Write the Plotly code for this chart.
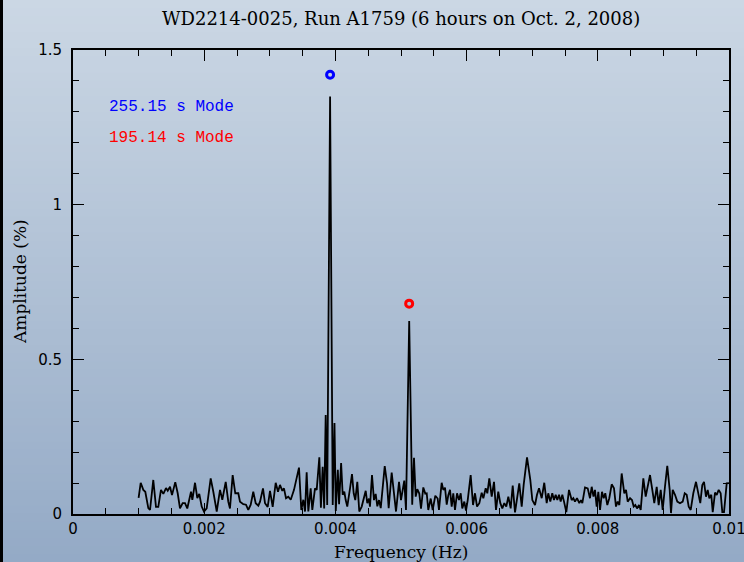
import plotly.graph_objects as go

# ---------------- data ----------------
freq_mHz = [
    1.000, 1.032, 1.072, 1.102, 1.148, 1.174, 1.224, 1.265, 1.300, 1.341,
    1.377, 1.418, 1.444, 1.479, 1.509, 1.559, 1.596, 1.631, 1.672, 1.707,
    1.742, 1.799, 1.819, 1.860, 1.895, 1.925, 1.962, 1.997, 2.038, 2.099,
    2.139, 2.191, 2.241, 2.276, 2.328, 2.367, 2.393, 2.434, 2.474, 2.520,
    2.546, 2.596, 2.637, 2.672, 2.709, 2.748, 2.785, 2.825, 2.851, 2.896,
    2.927, 2.968, 3.003, 3.044, 3.090, 3.125, 3.155, 3.191, 3.216, 3.247,
    3.282, 3.319, 3.369, 3.399, 3.445, 3.480, 3.511, 3.537, 3.562, 3.587,
    3.623, 3.648, 3.689, 3.715, 3.755, 3.779, 3.806, 3.829, 3.852, 3.875,
    3.919, 3.959, 3.986, 4.006, 4.037, 4.056, 4.087, 4.111, 4.136, 4.157,
    4.181, 4.223, 4.253, 4.279, 4.303, 4.334, 4.364, 4.401, 4.436, 4.462,
    4.486, 4.512, 4.527, 4.558, 4.588, 4.614, 4.639, 4.665, 4.691, 4.721,
    4.752, 4.787, 4.812, 4.858, 4.889, 4.924, 4.970, 5.000, 5.026, 5.050,
    5.076, 5.125, 5.171, 5.198, 5.224, 5.248, 5.279, 5.305, 5.340, 5.370,
    5.392, 5.416, 5.453, 5.483, 5.523, 5.559, 5.579, 5.620, 5.645, 5.671,
    5.697, 5.721, 5.747, 5.773, 5.797, 5.823, 5.854, 5.884, 5.910, 5.934,
    5.965, 5.991, 6.017, 6.062, 6.098, 6.128, 6.159, 6.194, 6.230, 6.255,
    6.291, 6.316, 6.346, 6.383, 6.418, 6.448, 6.483, 6.514, 6.544, 6.575,
    6.605, 6.636, 6.672, 6.703, 6.738, 6.773, 6.803, 6.840, 6.870, 6.921,
    6.971, 7.002, 7.043, 7.073, 7.104, 7.145, 7.184, 7.221, 7.245, 7.276,
    7.306, 7.332, 7.358, 7.383, 7.409, 7.434, 7.459, 7.485, 7.520, 7.561,
    7.602, 7.627, 7.652, 7.683, 7.718, 7.744, 7.764, 7.805, 7.846, 7.881,
    7.907, 7.934, 7.957, 7.983, 8.008, 8.034, 8.064, 8.090, 8.114, 8.145,
    8.175, 8.212, 8.247, 8.277, 8.303, 8.328, 8.364, 8.404, 8.430, 8.456,
    8.491, 8.521, 8.547, 8.572, 8.598, 8.628, 8.654, 8.694, 8.730, 8.755,
    8.796, 8.831, 8.861, 8.898, 8.928, 8.959, 8.989, 9.024, 9.059, 9.096,
    9.116, 9.142, 9.177, 9.212, 9.253, 9.294, 9.325, 9.355, 9.386, 9.416,
    9.456, 9.497, 9.532, 9.562, 9.593, 9.619, 9.649, 9.675, 9.700, 9.730,
    9.752, 9.787, 9.813, 9.843, 9.873, 9.898, 9.924, 9.965, 10.000,
]
amplitude_pct = [
    0.052, 0.101, 0.078, 0.072, 0.019, 0.013, 0.110, 0.023, 0.023, 0.078,
    0.065, 0.084, 0.075, 0.088, 0.061, 0.103, 0.067, 0.018, 0.035, 0.035,
    0.018, 0.072, 0.046, 0.101, 0.051, 0.065, 0.024, 0.008, 0.018, 0.115,
    0.072, 0.008, 0.078, 0.046, 0.104, 0.040, 0.018, 0.126, 0.067, 0.067,
    0.040, 0.032, 0.030, 0.013, 0.030, 0.072, 0.035, 0.027, 0.040, 0.083,
    0.035, 0.023, 0.075, 0.023, 0.101, 0.072, 0.094, 0.075, 0.083, 0.051,
    0.056, 0.046, 0.078, 0.104, 0.150, 0.013, 0.046, 0.008, 0.135, 0.008,
    0.083, 0.013, 0.083, 0.078, 0.183, 0.020, 0.153, 0.018, 0.320, 0.029,
    1.350, 0.029, 0.294, 0.010, 0.143, 0.032, 0.165, 0.062, 0.072, 0.045,
    0.024, 0.083, 0.129, 0.067, 0.045, 0.104, 0.008, 0.024, 0.056, 0.075,
    0.035, 0.050, 0.024, 0.126, 0.045, 0.065, 0.025, 0.045, 0.019, 0.099,
    0.155, 0.099, 0.019, 0.134, 0.083, 0.008, 0.104, 0.045, 0.078, 0.108,
    0.013, 0.624, 0.030, 0.182, 0.056, 0.080, 0.066, 0.017, 0.086, 0.066,
    0.067, 0.013, 0.050, 0.013, 0.059, 0.050, 0.013, 0.101, 0.078, 0.085,
    0.030, 0.061, 0.078, 0.024, 0.067, 0.013, 0.067, 0.045, 0.067, 0.018,
    0.040, 0.011, 0.045, 0.126, 0.029, 0.067, 0.024, 0.035, 0.069, 0.051,
    0.083, 0.067, 0.115, 0.056, 0.104, 0.013, 0.072, 0.035, 0.018, 0.035,
    0.024, 0.056, 0.018, 0.092, 0.005, 0.056, 0.099, 0.024, 0.094, 0.183,
    0.110, 0.045, 0.029, 0.062, 0.083, 0.051, 0.101, 0.035, 0.067, 0.040,
    0.067, 0.045, 0.062, 0.045, 0.062, 0.040, 0.062, 0.040, 0.006, 0.078,
    0.045, 0.051, 0.040, 0.051, 0.035, 0.045, 0.035, 0.086, 0.083, 0.051,
    0.088, 0.056, 0.078, 0.024, 0.072, 0.013, 0.072, 0.051, 0.067, 0.029,
    0.051, 0.096, 0.083, 0.024, 0.040, 0.029, 0.131, 0.067, 0.078, 0.040,
    0.051, 0.045, 0.024, 0.029, 0.018, 0.029, 0.013, 0.115, 0.056, 0.083,
    0.126, 0.078, 0.035, 0.088, 0.029, 0.078, 0.013, 0.088, 0.156, 0.078,
    0.003, 0.078, 0.062, 0.040, 0.035, 0.040, 0.067, 0.062, 0.024, 0.013,
    0.067, 0.104, 0.062, 0.035, 0.094, 0.104, 0.056, 0.078, 0.051, 0.062,
    0.006, 0.069, 0.062, 0.078, 0.067, 0.006, 0.006, 0.099, 0.100,
]

mode_labels = ["255.15 s Mode", "195.14 s Mode"]
mode_freq_hz = [1 / 255.15, 1 / 195.14]
mode_marker_amp = [1.42, 0.68]
mode_colors = ["#0000ff", "#ff0000"]
label_pos_freq = [0.00052, 0.00052]
label_pos_amp = [1.315, 1.215]

x_tickvals = [0, 0.002, 0.004, 0.006, 0.008, 0.01]
x_ticktext = ["0", "0.002", "0.004", "0.006", "0.008", "0.01"]
y_tickvals = [0, 0.5, 1, 1.5]
y_ticktext = ["0", "0.5", "1", "1.5"]

title_text = "WD2214-0025, Run A1759 (6 hours on Oct. 2, 2008)"
x_title = "Frequency (Hz)"
y_title = "Amplitude (%)"

freq_hz = [f / 1000 for f in freq_mHz]

# ---------------- figure ----------------
W, H = 744, 562
ML, MR, MT, MB = 73, 15, 50, 48
PW, PH = W - ML - MR, H - MT - MB

fig = go.Figure()
fig.add_trace(go.Scatter(
    x=freq_hz, y=amplitude_pct, mode="lines",
    line=dict(color="black", width=1.8), hoverinfo="skip", showlegend=False,
))
fig.add_trace(go.Scatter(
    x=mode_freq_hz, y=mode_marker_amp, mode="markers",
    marker=dict(symbol="circle-open", size=7, color=mode_colors,
                line=dict(width=3, color=mode_colors)),
    showlegend=False,
))

# gradient background built from horizontal bands
shapes = []
top = (203, 215, 228)
bot = (148, 170, 198)
nb = 70
y_lo = -MB / PH
y_hi = 1 + MT / PH
for i in range(nb):
    t = i / (nb - 1)
    c = tuple(int(round(top[k] + (bot[k] - top[k]) * t)) for k in range(3))
    y1 = y_hi - (y_hi - y_lo) * i / nb
    y0 = y_hi - (y_hi - y_lo) * (i + 1) / nb
    shapes.append(dict(type="rect", xref="paper", yref="paper",
                       x0=-ML / PW, x1=1 + MR / PW, y0=y0 - 0.002, y1=y1,
                       fillcolor="rgb(%d,%d,%d)" % c, line=dict(width=0),
                       layer="below"))
# dark frame edge on the left of the image
shapes.append(dict(type="rect", xref="paper", yref="paper",
                   x0=-ML / PW, x1=(-ML + 3) / PW, y0=y_lo, y1=y_hi,
                   fillcolor="black", line=dict(width=0), layer="above"))

annotations = []
for lab, fx, ay, col in zip(mode_labels, label_pos_freq, label_pos_amp, mode_colors):
    annotations.append(dict(x=fx, y=ay, xref="x", yref="y", text=lab,
                            showarrow=False, xanchor="left", yanchor="middle",
                            font=dict(family="Liberation Mono", size=16, color=col)))
annotations.append(dict(x=0.5, y=1, xref="paper", yref="paper", yshift=32,
                        text=title_text, showarrow=False, xanchor="center",
                        yanchor="middle",
                        font=dict(family="DejaVu Serif", size=18, color="black")))
annotations.append(dict(x=0.5, y=0, xref="paper", yref="paper", yshift=-38,
                        text=x_title, showarrow=False, xanchor="center",
                        yanchor="middle",
                        font=dict(family="DejaVu Serif", size=17, color="black")))
annotations.append(dict(x=0, y=0.5, xref="paper", yref="paper", xshift=-53,
                        text=y_title, showarrow=False, xanchor="center",
                        yanchor="middle", textangle=-90,
                        font=dict(family="DejaVu Serif", size=17, color="black")))

axis_common = dict(
    showline=True, linecolor="black", linewidth=2, mirror="allticks",
    ticks="inside", ticklen=11, tickwidth=1.3, tickcolor="black",
    showgrid=False, zeroline=False, ticklabeloverflow="allow",
    automargin=False,
    tickfont=dict(family="DejaVu Sans", size=15, color="black"),
)

fig.update_layout(
    width=W, height=H,
    margin=dict(l=ML, r=MR, t=MT, b=MB, autoexpand=False),
    paper_bgcolor="rgb(175,192,212)",
    plot_bgcolor="rgba(0,0,0,0)",
    shapes=shapes,
    annotations=annotations,
    xaxis=dict(range=[0, 0.01], tickvals=x_tickvals, ticktext=x_ticktext,
               minor=dict(dtick=0.0005, tick0=0, ticks="inside", ticklen=6,
                          tickcolor="black", tickwidth=1.3, showgrid=False),
               **axis_common),
    yaxis=dict(range=[0, 1.5], tickvals=y_tickvals, ticktext=y_ticktext,
               ticklabelstandoff=6,
               minor=dict(dtick=0.1, tick0=0, ticks="inside", ticklen=6,
                          tickcolor="black", tickwidth=1.3, showgrid=False),
               **axis_common),
    showlegend=False,
)

fig.write_html("out.html")
